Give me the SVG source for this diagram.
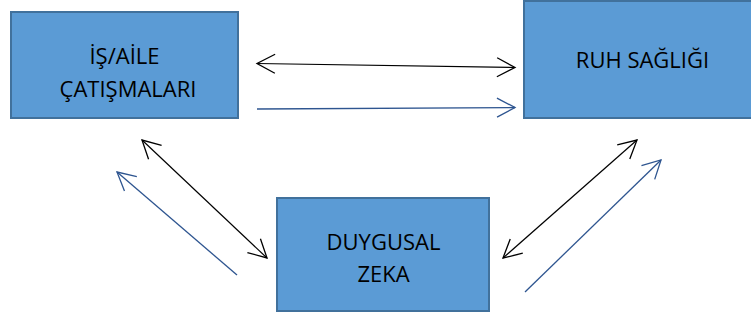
<svg xmlns="http://www.w3.org/2000/svg" width="751" height="320" viewBox="0 0 751 320">
  <style>
    .box { fill: #5B9BD5; stroke: #41719C; stroke-width: 2; }
    .label { font-family: "Open Sans", "Noto Sans", sans-serif; font-size: 22px; fill: #000; text-anchor: middle; }
    .link { fill: none; stroke: #000; stroke-width: 1.2; }
    .flow { fill: none; stroke: #2E5590; stroke-width: 1.3; }
  </style>
  <defs>
    <marker id="headBlack" markerUnits="userSpaceOnUse" markerWidth="24" markerHeight="24" viewBox="-20 -12 24 24" refX="0" refY="0" orient="auto-start-reverse">
      <path d="M -18,-9.5 L 0,0 L -18,9.5" fill="none" stroke="#000" stroke-width="1.3"/>
    </marker>
    <marker id="headBlue" markerUnits="userSpaceOnUse" markerWidth="24" markerHeight="24" viewBox="-20 -12 24 24" refX="0" refY="0" orient="auto">
      <path d="M -18,-9.5 L 0,0 L -18,9.5" fill="none" stroke="#2E5590" stroke-width="1.3"/>
    </marker>
  </defs>

  <g id="connectors">
    <!-- two-way relations -->
    <line class="link" x1="257" y1="63.5" x2="515" y2="67.5" marker-start="url(#headBlack)" marker-end="url(#headBlack)"/>
    <line class="link" x1="142" y1="140" x2="267" y2="258" marker-start="url(#headBlack)" marker-end="url(#headBlack)"/>
    <line class="link" x1="637" y1="140" x2="503" y2="258" marker-start="url(#headBlack)" marker-end="url(#headBlack)"/>
    <!-- one-way effects -->
    <line class="flow" x1="257" y1="109" x2="515" y2="107.5" marker-end="url(#headBlue)"/>
    <line class="flow" x1="237" y1="275" x2="117" y2="172" marker-end="url(#headBlue)"/>
    <line class="flow" x1="525" y1="292" x2="661" y2="160" marker-end="url(#headBlue)"/>
  </g>

  <g id="is-aile">
    <rect class="box" x="11" y="12" width="227" height="106"/>
    <text class="label" x="124.5" y="64">İŞ/AİLE</text>
    <text class="label" x="128" y="97">ÇATIŞMALARI</text>
  </g>

  <g id="ruh-sagligi">
    <rect class="box" x="524" y="1" width="240" height="117"/>
    <text class="label" x="642.5" y="68">RUH SAĞLIĞI</text>
  </g>

  <g id="duygusal-zeka">
    <rect class="box" x="277" y="198" width="212" height="113"/>
    <text class="label" x="383.5" y="250">DUYGUSAL</text>
    <text class="label" x="383.5" y="282">ZEKA</text>
  </g>
</svg>
